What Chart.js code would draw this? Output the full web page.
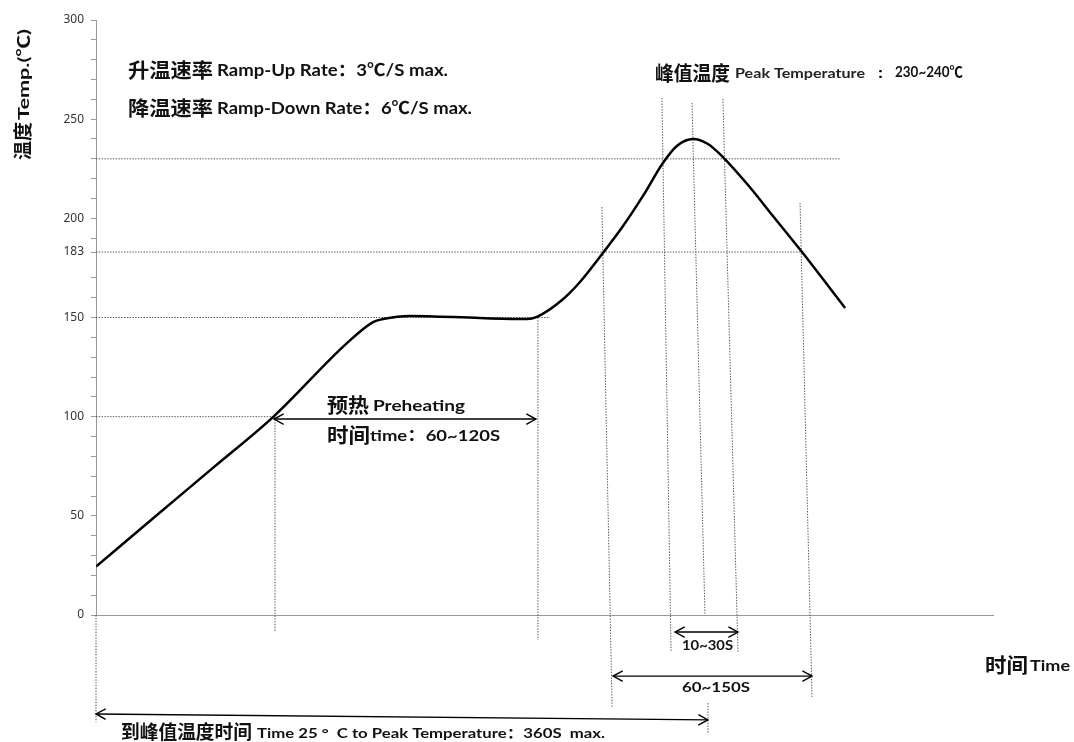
<!DOCTYPE html>
<html><head><meta charset="utf-8">
<script src="https://cdn.jsdelivr.net/npm/chart.js@4.4.1/dist/chart.umd.min.js"></script>
<style>html,body{margin:0;padding:0;background:#fff}canvas{display:block}</style>
</head><body>
<canvas id="c" width="1074" height="742"></canvas>
<script>
// Reflow profile curve: time (s) and temperature (°C)
const timeS = [0, 30, 60, 88.8, 125.9, 139.0, 144.0, 157.5, 192.6, 216.2, 221.2, 233.8, 242.8, 254.3, 264.4, 274.4, 284.4, 291.4, 299.5, 307.0, 314.5, 327.1, 339.6, 354.2, 375.8];
const tempC = [24.4, 49.9, 75.3, 99.8, 137.1, 147.7, 149.2, 150.8, 149.7, 149.2, 150.3, 158.8, 167.9, 182.5, 196.1, 211.3, 227.9, 236.5, 240.0, 237.5, 230.9, 216.8, 201.2, 183.0, 154.8];

// y-axis tick values and labelled ticks
const yTickValues = [0,10,20,30,40,50,60,70,80,90,100,110,120,130,140,150,160,170,183,190,200,210,220,230,240,250,260,270,280,290,300];
const yTickLabels = [0, 50, 100, 150, 183, 200, 250, 300];

// dotted reference lines [t1, T1, t2, T2]
const refLines = [
  [0, 230, 373.3, 230],
  [0, 183, 354.7, 183],
  [0, 150, 227.8, 150],
  [0, 100, 89.3, 100],
  [89.8, 100, 89.8, -8.6],
  [221.7, 150, 221.7, -12.6],
  [253.8, 205.7, 258.9, -46.4],
  [283.9, 260.7, 288.5, -18.7],
  [299.0, 258.2, 305.5, 0.5],
  [314.5, 260.2, 322.1, -19.2],
  [353.2, 207.7, 359.2, -41.3],
  [0, 0, 0, -54],
  [307.0, -44.4, 307.0, -59.5]
];

// double-headed duration arrows [t1, T1, t2, T2]
const arrowLines = [
  [89.3, 98.8, 220.7, 98.8],
  [290.5, -8.6, 322.1, -8.6],
  [259.4, -30.8, 359.2, -30.8],
  [0, -49.9, 307.0, -52.9]
];

const datasets = [];
datasets.push({
  data: timeS.map((t, i) => ({x: t, y: tempC[i]})),
  borderColor: '#000', borderWidth: 2.5, pointRadius: 0,
  cubicInterpolationMode: 'monotone', fill: false
});
refLines.forEach(l => datasets.push({
  data: [{x: l[0], y: l[1]}, {x: l[2], y: l[3]}],
  borderColor: '#555', borderWidth: 1, borderDash: [1.4, 1.4],
  pointRadius: 0, fill: false, clip: false, tension: 0
}));
arrowLines.forEach(l => datasets.push({
  data: [{x: l[0], y: l[1]}, {x: l[2], y: l[3]}],
  borderColor: '#000', borderWidth: 1.4,
  pointRadius: 0, fill: false, clip: false, tension: 0, arrow: true
}));

function drawHead(c, tx, ty, fx, fy) {
  const ang = Math.atan2(ty - fy, tx - fx), L = 11, w = 0.5;
  c.save(); c.strokeStyle = '#000'; c.lineWidth = 1.4; c.beginPath();
  c.moveTo(tx - L * Math.cos(ang - w), ty - L * Math.sin(ang - w));
  c.lineTo(tx, ty);
  c.lineTo(tx - L * Math.cos(ang + w), ty - L * Math.sin(ang + w));
  c.stroke(); c.restore();
}
const arrowPlugin = {
  id: 'arrows',
  afterDatasetsDraw(chart) {
    const c = chart.ctx;
    chart.data.datasets.forEach((ds, i) => {
      if (!ds.arrow) return;
      const pts = chart.getDatasetMeta(i).data;
      const a = pts[0], b = pts[pts.length - 1];
      drawHead(c, b.x, b.y, a.x, a.y);
      drawHead(c, a.x, a.y, b.x, b.y);
    });
  }
};

const CJK = '"Noto Sans CJK SC"';
function fitText(c, txt, x, y, w, font, color) {
  c.save();
  c.font = font; c.fillStyle = color || '#111';
  c.textBaseline = 'middle'; c.textAlign = 'left';
  const m = c.measureText(txt).width;
  c.translate(x, y); c.scale(w / m, 1);
  c.fillText(txt, 0, 0);
  c.restore();
}
const textPlugin = {
  id: 'texts',
  afterDraw(chart) {
    const c = chart.ctx;
    const fC = 'bold 20px ' + CJK;
    const fL = 'bold 17px Lato, ' + CJK;
    fitText(c, '升温速率', 128, 70, 85, fC);
    fitText(c, 'Ramp-Up Rate：3℃/S max.', 217, 71, 231, fL);
    fitText(c, '降温速率', 128, 108, 85, fC);
    fitText(c, 'Ramp-Down Rate：6℃/S max.', 217, 109, 255, fL);

    fitText(c, '峰值温度', 655, 73, 75, 'bold 20px ' + CJK);
    fitText(c, 'Peak Temperature', 735, 73, 130, 'bold 14px Lato', '#222');
    fitText(c, ':', 878, 73, 5, 'bold 15px Lato');
    fitText(c, '230~240℃', 895, 72, 68, 'bold 15px Lato, ' + CJK);

    fitText(c, '预热', 327, 405, 42, fC);
    fitText(c, 'Preheating', 373, 406, 92, 'bold 16px Lato');
    fitText(c, '时间', 327, 435, 43, fC);
    fitText(c, 'time：60~120S', 370, 436, 130, 'bold 16px Lato, ' + CJK);

    fitText(c, '10~30S', 682, 646, 51, 'bold 13px Lato');
    fitText(c, '60~150S', 682, 688, 68, 'bold 13px Lato');

    fitText(c, '时间', 985, 665, 43, fC);
    fitText(c, 'Time', 1030, 666, 40, 'bold 16px Lato');

    fitText(c, '到峰值温度时间', 121, 732, 131, 'bold 19px ' + CJK);
    fitText(c, 'Time 25 °  C to Peak Temperature：360S  max.', 257, 733, 348, 'bold 14px Lato, ' + CJK);

    // rotated y-axis title
    c.save();
    c.translate(23, 160);
    c.rotate(-Math.PI / 2);
    fitText(c, '温度', 0, 0, 38, 'bold 19px ' + CJK);
    fitText(c, 'Temp.(℃)', 40, 1, 91, 'bold 16px Lato, ' + CJK);
    c.restore();
  }
};

new Chart(document.getElementById('c'), {
  type: 'line',
  data: { datasets },
  options: {
    responsive: false, animation: false, devicePixelRatio: 1,
    layout: { padding: { left: 0, top: 20, right: 81, bottom: 0 } },
    plugins: { legend: { display: false }, tooltip: { enabled: false } },
    scales: {
      x: {
        type: 'linear', min: 0, max: 450,
        ticks: { display: false },
        grid: { display: false, drawTicks: false },
        border: { display: true, color: '#999', width: 1 },
        afterFit: s => { s.height = 127; }
      },
      y: {
        type: 'linear', min: 0, max: 300,
        afterBuildTicks: s => { s.ticks = yTickValues.map(v => ({ value: v })); },
        ticks: {
          autoSkip: false, padding: 7, color: '#333',
          font: { family: 'Noto Sans', size: 12 },
          callback: v => yTickLabels.includes(v) ? String(v) : ''
        },
        grid: { drawOnChartArea: false, drawTicks: true, tickLength: 5, color: '#999' },
        border: { display: true, color: '#999', width: 1 },
        afterFit: s => { s.width = 96; }
      }
    }
  },
  plugins: [arrowPlugin, textPlugin]
});
</script>
</body></html>
